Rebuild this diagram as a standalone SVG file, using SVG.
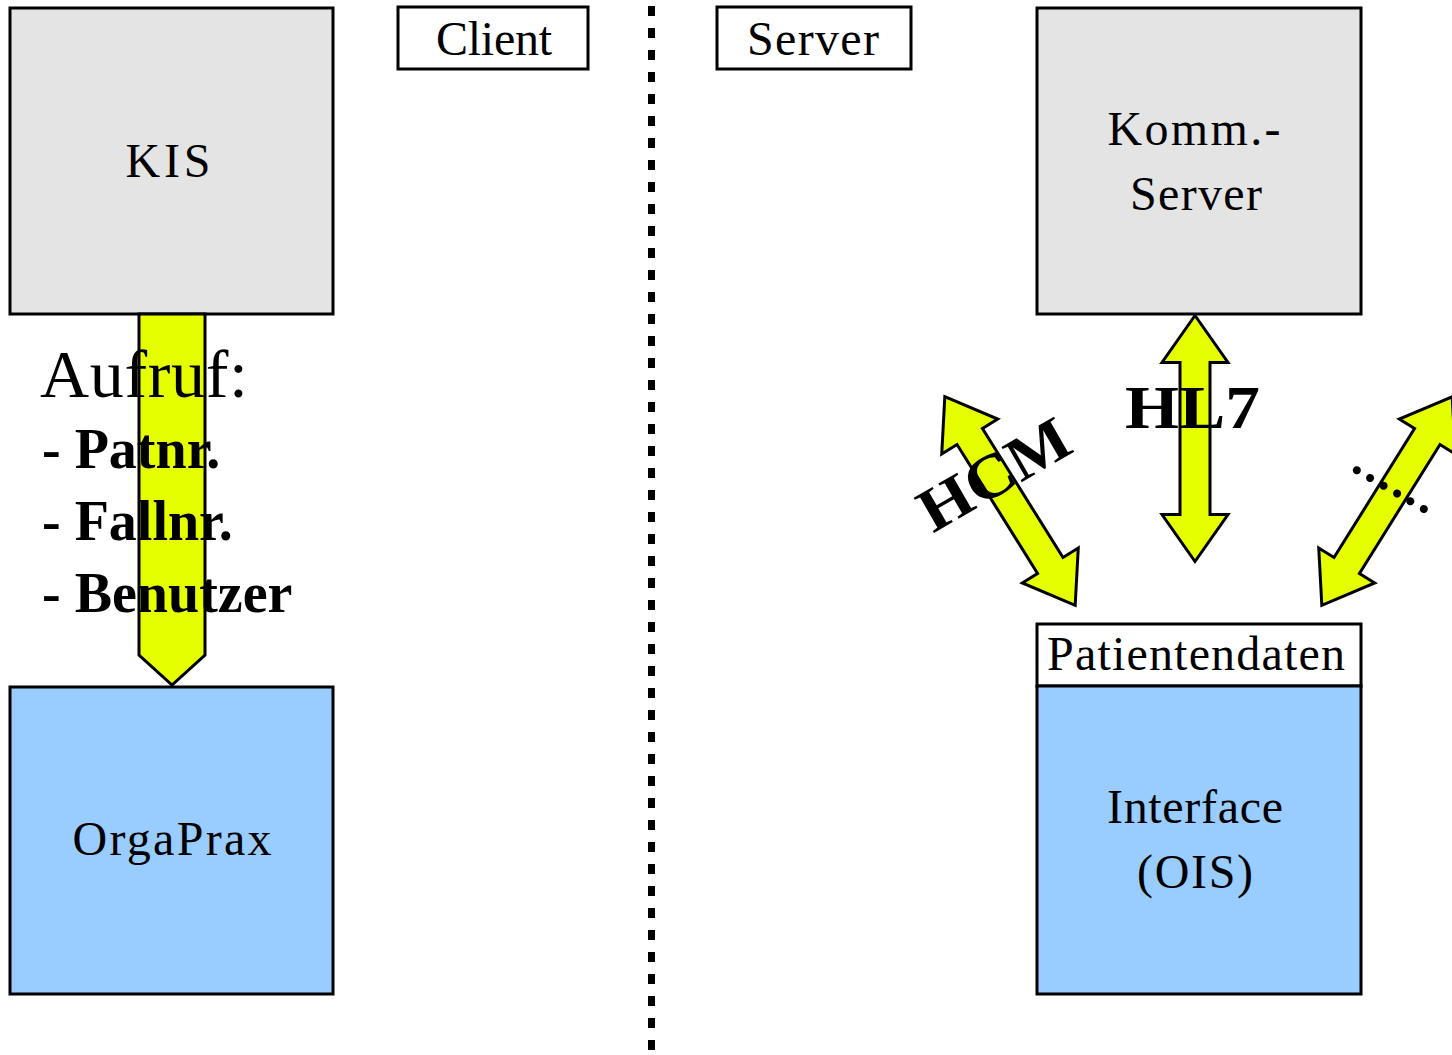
<svg xmlns="http://www.w3.org/2000/svg" width="1452" height="1055" viewBox="0 0 1452 1055">
<style>
.box{stroke:#000;stroke-width:3}
.grey{fill:#e4e4e4}
.blue{fill:#99ccff}
.white{fill:#fff}
.t{font-family:"Liberation Serif","Times New Roman",serif;fill:#000}
.n{font-size:48px;text-anchor:middle}
.arrow{fill:#e6ff00;stroke:#000;stroke-width:3;stroke-linejoin:miter}
.b{font-weight:bold}
</style>
<defs>
<polygon id="dbl" class="arrow" points="0,-123 33,-76 15,-76 15,76 33,76 0,123 -33,76 -15,76 -15,-76 -33,-76"/>
</defs>
<rect width="1452" height="1055" fill="#fff"/>
<line x1="651.5" y1="6" x2="651.5" y2="1055" stroke="#000" stroke-width="7" stroke-dasharray="10 12"/>
<g id="kis"><rect class="box grey" x="10" y="8" width="323" height="306"/><text class="t n" x="168" y="177" textLength="85">KIS</text></g>
<g id="client"><rect class="box white" x="398" y="7" width="190" height="62"/><text class="t n" x="494" y="55" textLength="116">Client</text></g>
<g id="server"><rect class="box white" x="717" y="7" width="194" height="62"/><text class="t n" x="813" y="55" textLength="132">Server</text></g>
<g id="komm"><rect class="box grey" x="1037" y="8" width="324" height="306"/><text class="t n" x="1194" y="145" textLength="173">Komm.-</text><text class="t n" x="1196" y="210" textLength="132">Server</text></g>
<g id="orgaprax"><rect class="box blue" x="10" y="687" width="323" height="307"/><text class="t n" x="172" y="855" textLength="199">OrgaPrax</text></g>
<g id="patientendaten"><rect class="box white" x="1037" y="624" width="324" height="62"/><text class="t n" x="1196" y="670" textLength="298">Patientendaten</text></g>
<g id="interface"><rect class="box blue" x="1037" y="686" width="324" height="308"/><text class="t n" x="1195" y="823" textLength="176">Interface</text><text class="t n" x="1195" y="888" textLength="116">(OIS)</text></g>
<g id="connectors">
<polygon class="arrow" points="139,314 205,314 205,655 172,685 139,655"/>
<use href="#dbl" transform="translate(1195,438.5)"/>
<use href="#dbl" transform="translate(1010,501) rotate(-32)"/>
<use href="#dbl" transform="translate(1387,501) rotate(32)"/>
</g>
<g id="labels">
<text class="t" x="40" y="397" font-size="68" textLength="208">Aufruf:</text>
<text class="t b" x="42" y="468" font-size="56">- Patnr.</text>
<text class="t b" x="42" y="540" font-size="56">- Fallnr.</text>
<text class="t b" x="42" y="612" font-size="56">- Benutzer</text>
<text class="t b" x="1125" y="428" font-size="62" textLength="135" lengthAdjust="spacingAndGlyphs">HL7</text>
<text class="t b" transform="translate(994,474) rotate(-30)" x="0" y="21" font-size="62" text-anchor="middle" textLength="165" lengthAdjust="spacingAndGlyphs">HCM</text>
<text class="t b" transform="translate(1356,469) rotate(30)" x="-5" y="4" font-size="50" textLength="90">......</text>
</g>
</svg>
